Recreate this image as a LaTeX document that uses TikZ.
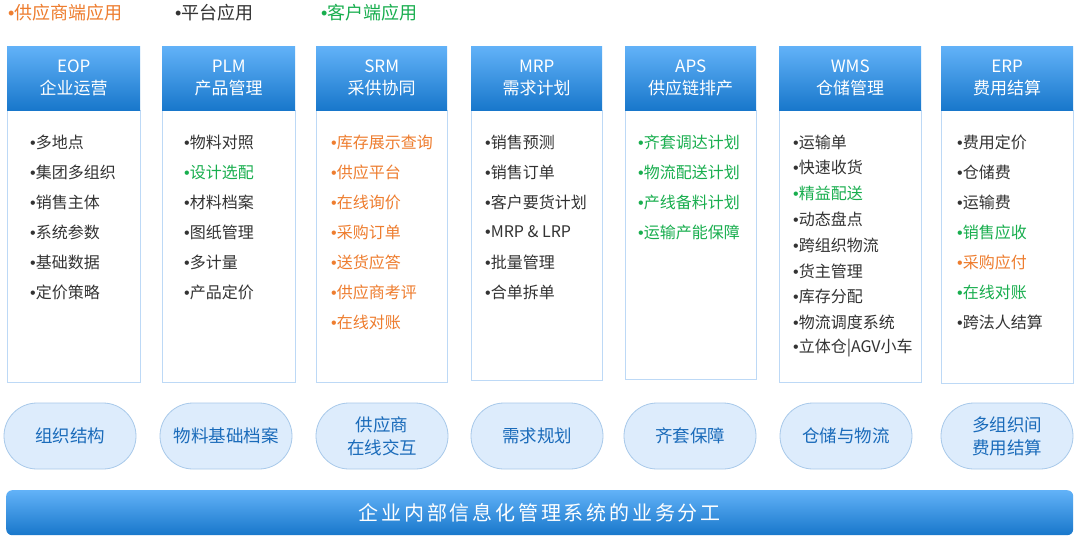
\documentclass[tikz,border=0pt]{standalone}
\usepackage{fontspec}
\setmainfont{Noto Sans CJK SC}
\newfontfamily\bulfont{Liberation Sans}
\newcommand\bul{{\bulfont •}}
\usetikzlibrary{shapes.misc}
\definecolor{orng}{HTML}{EE7D2F}
\definecolor{grn}{HTML}{18AE4E}
\definecolor{txt}{HTML}{333333}
\definecolor{hdtop}{HTML}{62B2F8}
\definecolor{hdbot}{HTML}{1877CB}
\definecolor{bord}{HTML}{BDD9F6}
\definecolor{pillfill}{HTML}{DDECFC}
\definecolor{pillbord}{HTML}{A8C9EA}
\definecolor{pilltxt}{HTML}{1A6BBA}
\tikzset{
  hdr/.style={rectangle, anchor=north west, minimum height=64pt, top color=hdtop, bottom color=hdbot, draw=none,
    text=white, align=center, inner sep=0pt, font=\fontsize{17}{22}\selectfont},
  colbody/.style={rectangle, anchor=north west, draw=bord, fill=white, line width=0.9pt, inner sep=0pt},
  item/.style={anchor=west, inner sep=0pt, font=\fontsize{16}{16}\selectfont},
  legend/.style={anchor=west, inner sep=0pt, font=\fontsize{18}{18}\selectfont},
  pill/.style={rounded rectangle, draw=pillbord, fill=pillfill, line width=0.8pt, text=pilltxt, minimum height=66pt,
    minimum width=132pt, inner sep=0pt, align=center, font=\fontsize{17.5}{23}\selectfont},
  bar/.style={rectangle, anchor=north west, rounded corners=6pt, top color=hdtop, bottom color=hdbot, draw=none,
    text=white, inner sep=0pt, font=\fontsize{20}{20}\selectfont\addfontfeature{LetterSpace=14}}
}
\begin{document}
\begin{tikzpicture}[x=1pt,y=-1pt]
\useasboundingbox[fill=white] (0,0) rectangle (1080,542);
% legend
\node[legend, text=orng] (lg1) at (8,13) {\bul 供应商端应用};
\node[legend, text=txt] (lg2) at (175,13) {\bul 平台应用};
\node[legend, text=grn] (lg3) at (321,13) {\bul 客户端应用};
% column bodies
\node[colbody, minimum width=133pt, minimum height=272pt] (bEOP) at (7,110) {};
\node[colbody, minimum width=133pt, minimum height=272pt] (bPLM) at (162,110) {};
\node[colbody, minimum width=131pt, minimum height=272pt] (bSRM) at (316,110) {};
\node[colbody, minimum width=131pt, minimum height=270pt] (bMRP) at (471,110) {};
\node[colbody, minimum width=131pt, minimum height=269pt] (bAPS) at (625,110) {};
\node[colbody, minimum width=142pt, minimum height=272pt] (bWMS) at (779,110) {};
\node[colbody, minimum width=132pt, minimum height=273pt] (bERP) at (941,110) {};
% headers
\node[hdr, minimum width=133pt] (hEOP) at (7,46) {EOP\\企业运营};
\node[hdr, minimum width=133pt] (hPLM) at (162,46) {PLM\\产品管理};
\node[hdr, minimum width=131pt] (hSRM) at (316,46) {SRM\\采供协同};
\node[hdr, minimum width=131pt] (hMRP) at (471,46) {MRP\\需求计划};
\node[hdr, minimum width=131pt] (hAPS) at (625,46) {APS\\供应链排产};
\node[hdr, minimum width=142pt] (hWMS) at (779,46) {WMS\\仓储管理};
\node[hdr, minimum width=132pt] (hERP) at (941,46) {ERP\\费用结算};
% items
\foreach \t/\c [count=\i] in {多地点/txt,集团多组织/txt,销售主体/txt,系统参数/txt,基础数据/txt,定价策略/txt}
  \node[item, text=\c] (eop\i) at (30,{142+(\i-1)*30}) {\bul\t};
\foreach \t/\c [count=\i] in {物料对照/txt,设计选配/grn,材料档案/txt,图纸管理/txt,多计量/txt,产品定价/txt}
  \node[item, text=\c] (plm\i) at (184,{142+(\i-1)*30}) {\bul\t};
\foreach \t/\c [count=\i] in {库存展示查询/orng,供应平台/orng,在线询价/orng,采购订单/orng,送货应答/orng,供应商考评/orng,在线对账/orng}
  \node[item, text=\c] (srm\i) at (331,{142+(\i-1)*30}) {\bul\t};
\foreach \t/\c [count=\i] in {销售预测/txt,销售订单/txt,客户要货计划/txt,MRP \& LRP/txt,批量管理/txt,合单拆单/txt}
  \node[item, text=\c] (mrp\i) at (485,{142+(\i-1)*30}) {\bul\t};
\foreach \t/\c [count=\i] in {齐套调达计划/grn,物流配送计划/grn,产线备料计划/grn,运输产能保障/grn}
  \node[item, text=\c] (aps\i) at (638,{142+(\i-1)*30}) {\bul\t};
\foreach \t/\c [count=\i] in {运输单/txt,快速收货/txt,精益配送/grn,动态盘点/txt,跨组织物流/txt,货主管理/txt,库存分配/txt,物流调度系统/txt,立体仓|AGV小车/txt}
  \node[item, text=\c] (wms\i) at (793,{142+(\i-1)*25.8}) {\bul\t};
\foreach \t/\c [count=\i] in {费用定价/txt,仓储费/txt,运输费/txt,销售应收/grn,采购应付/orng,在线对账/grn,跨法人结算/txt}
  \node[item, text=\c] (erp\i) at (957,{142+(\i-1)*30}) {\bul\t};
% pills
\node[pill] (p1) at (70,436) {组织结构};
\node[pill] (p2) at (226,436) {物料基础档案};
\node[pill] (p3) at (382,436) {供应商\\在线交互};
\node[pill] (p4) at (537,436) {需求规划};
\node[pill] (p5) at (690,436) {齐套保障};
\node[pill] (p6) at (846,436) {仓储与物流};
\node[pill] (p7) at (1007,436) {多组织间\\费用结算};
% bottom bar
\node[bar, minimum width=1067pt, minimum height=45pt] (bar) at (6,490) {企业内部信息化管理系统的业务分工};
\end{tikzpicture}
\end{document}
